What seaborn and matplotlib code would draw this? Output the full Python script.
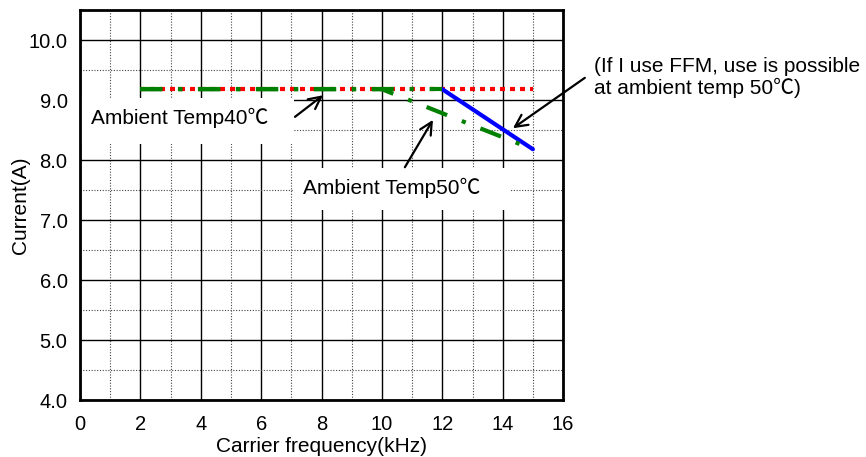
import numpy as np
import pandas as pd
import seaborn as sns
from matplotlib import pyplot as plt
from matplotlib.patches import Rectangle

# data
freq_limit = [2, 15]
cur_limit = [9.18, 9.18]

freq_40 = [2, 12]
cur_40 = [9.18, 9.18]

freq_50 = [2, 10, 15]
cur_50 = [9.18, 9.18, 8.18]

freq_ffm = [12, 15]
cur_ffm = [9.18, 8.18]

x_ticks = np.arange(0, 17, 2)
y_ticks = np.arange(4.0, 10.5, 1.0)

sns.set_theme(style='white')
plt.rcParams['font.family'] = ['Liberation Sans', 'Noto Sans CJK JP', 'DejaVu Sans']
plt.rcParams['text.color'] = 'black'
plt.rcParams['axes.labelcolor'] = 'black'
FS = 15
TICK_FS = 14.5

fig = plt.figure(figsize=(8.66, 4.57), dpi=100)
ax = fig.add_axes([0.0924, 0.1247, 0.5578, 0.8533])

dash_dot = (0, (5.3, 3.8, 1.0, 3.8))
sns.lineplot(x=freq_limit, y=cur_limit, ax=ax, color='#ff0000', linewidth=3,
             linestyle=(0, (1.2, 1.2)), zorder=3)
sns.lineplot(x=freq_ffm, y=cur_ffm, ax=ax, color='#0000ff', linewidth=3, zorder=4)
sns.lineplot(x=freq_40, y=cur_40, ax=ax, color='#008000', linewidth=3, linestyle=dash_dot, zorder=5)
sns.lineplot(x=freq_50, y=cur_50, ax=ax, color='#008000', linewidth=3, linestyle=dash_dot, zorder=5)

ax.set_xlim(0, 16)
ax.set_ylim(4.0, 10.5)
ax.set_xticks(x_ticks)
ax.set_yticks(y_ticks)
ax.set_xticks(np.arange(1, 16, 2), minor=True)
ax.set_yticks(np.arange(4.5, 10.5, 1.0), minor=True)
ax.set_yticklabels([f'{v:.1f}' for v in y_ticks])
ax.tick_params(which='both', length=0, labelsize=TICK_FS, colors='black')
ax.tick_params(axis='x', pad=11)
ax.tick_params(axis='y', pad=9)
ax.grid(which='major', color='black', linewidth=1.0, linestyle='-')
ax.grid(which='minor', color='#444444', linewidth=0.8, linestyle=(0, (1, 1.5)))
for sp in ax.spines.values():
    sp.set_color('black')
    sp.set_linewidth(2)

ax.set_xlabel('Carrier frequency(kHz)', fontsize=FS, labelpad=2)
ax.set_ylabel('Current(A)', fontsize=FS, labelpad=-1)

# white label boxes over the grid
ax.add_patch(Rectangle((0, 8.27), 7.1, 0.76, facecolor='white', edgecolor='none', zorder=2))
ax.add_patch(Rectangle((7.05, 7.17), 7.2, 0.7, facecolor='white', edgecolor='none', zorder=2))

ax.text(0.36, 8.7, 'Ambient Temp40℃', fontsize=FS, va='center', ha='left', zorder=6)
ax.text(7.38, 7.53, 'Ambient Temp50℃', fontsize=FS, va='center', ha='left', zorder=6)
ax.text(17.02, 9.375, '(If I use FFM, use is possible\nat ambient temp 50℃)', fontsize=FS,
        va='center', ha='left', linespacing=1.15, clip_on=False)

arrow = dict(arrowstyle='->', color='black', lw=1.6, mutation_scale=22, shrinkA=0, shrinkB=0)
ax.annotate('', xy=(8.05, 9.08), xytext=(7.12, 8.72), arrowprops=arrow, zorder=6)
ax.annotate('', xy=(11.69, 8.67), xytext=(10.76, 7.88), arrowprops=arrow, zorder=6)
ax.annotate('', xy=(14.34, 8.53), xytext=(16.72, 9.37), arrowprops=arrow,
            annotation_clip=False, zorder=6)

fig.savefig('out.png', dpi=100)
